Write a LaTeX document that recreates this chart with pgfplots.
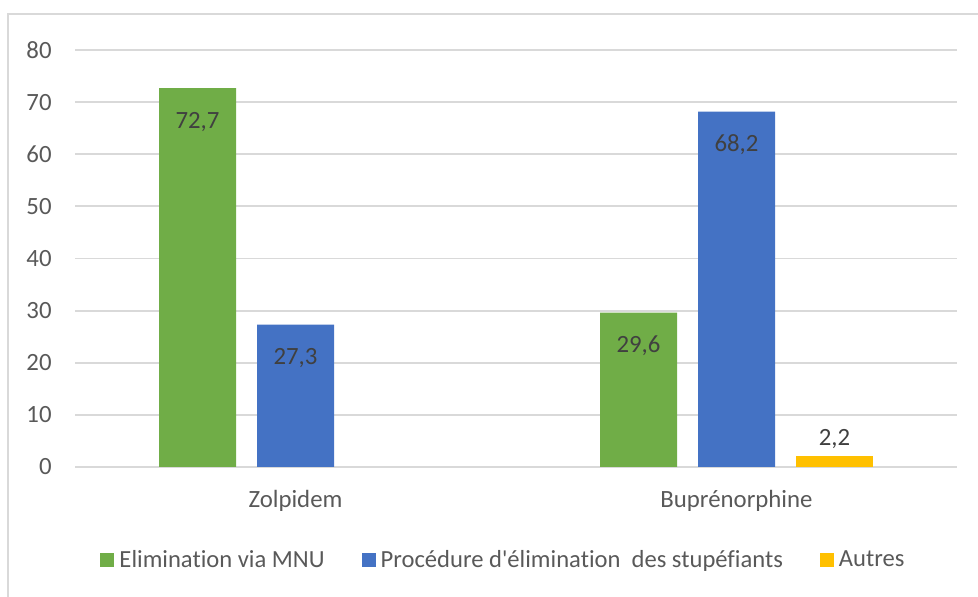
\documentclass[border=0pt]{standalone}
\usepackage{pgfplots}
\pgfplotsset{compat=1.18}
\usepackage{fontspec}
\setmainfont{Carlito}[Ligatures={NoCommon}]
\definecolor{cgreen}{HTML}{70AD47}
\definecolor{cblue}{HTML}{4472C4}
\definecolor{cyellow}{HTML}{FFC000}
\definecolor{cgrid}{HTML}{D9D9D9}
\definecolor{ctext}{HTML}{595959}
\definecolor{clabel}{HTML}{404040}
\begin{document}
\begin{tikzpicture}
\useasboundingbox (-37.5pt,-65pt) rectangle (451.5pt,233.5pt);
\draw[cgrid, line width=1pt] (-33.5pt,-90pt) -- (-33.5pt,226.5pt) -- (480pt,226.5pt);
\begin{axis}[
  scale only axis,
  width=441pt, height=208.5pt,
  xmin=-0.5, xmax=1.5,
  ymin=0, ymax=80,
  ytick={0,10,...,80},
  xtick={0,1},
  xticklabels={Zolpidem,Buprénorphine},
  axis line style={draw=none},
  major tick length=0pt,
  ymajorgrids,
  major grid style={cgrid, line width=0.9pt},
  /pgf/number format/assume math mode=true,
  tick label style={font=\fontsize{12.4}{14}\selectfont, text=ctext},
  yticklabel style={anchor=east, inner sep=0pt, xshift=-11.5pt},
  xticklabel style={anchor=base, inner sep=0pt, yshift=-20.5pt},
  ybar, bar width=38.5pt,
  nodes near coords,
  nodes near coords style={font=\fontsize{12.4}{14}\selectfont, text=clabel, inner sep=0pt,
     /pgf/number format/fixed, /pgf/number format/fixed zerofill,
     /pgf/number format/precision=1, /pgf/number format/use comma,
     /pgf/number format/assume math mode=true},
  legend image code/.code={\fill[#1] (0pt,-3.5pt) rectangle (7pt,3.5pt);},
  legend style={draw=none, fill=none, legend columns=-1,
     /tikz/every odd column/.append style={column sep=2.5pt},
     /tikz/every even column/.append style={column sep=18.5pt},
     nodes={inner sep=0pt, text=ctext, font=\fontsize{12.3}{14}\selectfont},
     at={(0.4847,-0.223)}, anchor=center},
]
\addplot[fill=cgreen, draw=none, bar shift=-49pt,
  every node near coord/.append style={anchor=base, yshift=-20pt}]
  coordinates {(0,72.7) (1,29.6)};
\addlegendentry{Elimination via MNU}
\addplot[fill=cblue, draw=none, bar shift=0pt,
  every node near coord/.append style={anchor=base, yshift=-20pt}]
  coordinates {(0,27.3) (1,68.2)};
\addlegendentry{Procédure d\textquotesingle élimination\ \ des stupéfiants}
\addplot[fill=cyellow, draw=none, bar shift=49pt,
  every node near coord/.append style={anchor=base, yshift=5pt}]
  coordinates {(1,2.2)};
\addlegendentry{Autres}
\end{axis}
\end{tikzpicture}
\end{document}
